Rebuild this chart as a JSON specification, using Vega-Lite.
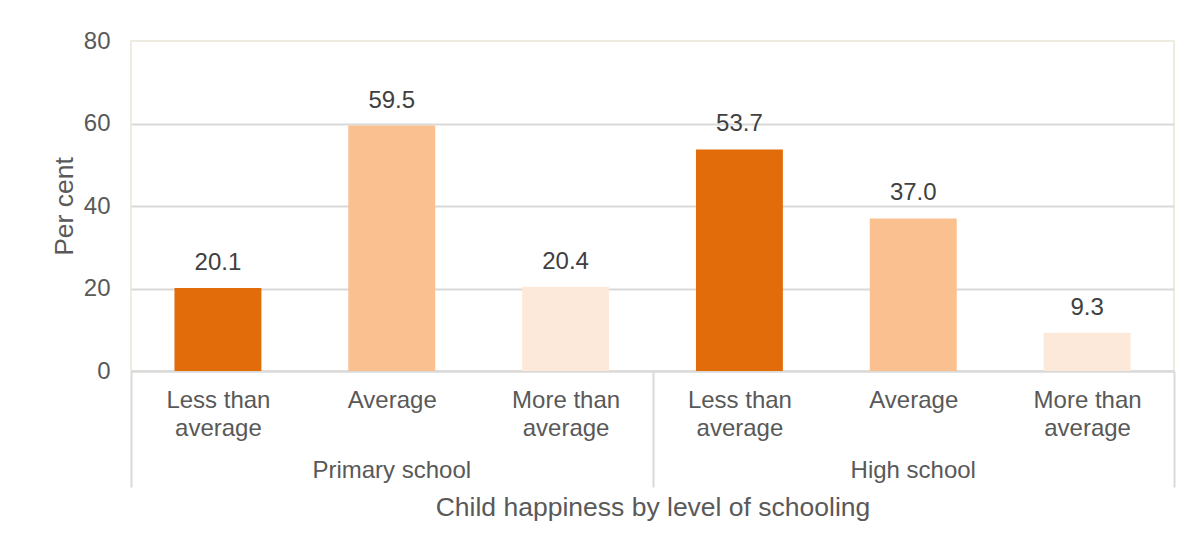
{
  "$schema": "https://vega.github.io/schema/vega-lite/v6.json",
  "width": 1043,
  "height": 330,
  "autosize": {"type": "none"},
  "padding": {"left": 131, "top": 41, "right": 18, "bottom": 176},
  "background": "white",
  "config": {
    "font": "Liberation Sans",
    "view": {"stroke": "#EEECE1", "strokeWidth": 2}
  },
  "data": {
    "values": [
      {"id": "P1", "group": "Primary school", "level": "Less than average", "value": 20.1},
      {"id": "P2", "group": "Primary school", "level": "Average", "value": 59.5},
      {"id": "P3", "group": "Primary school", "level": "More than average", "value": 20.4},
      {"id": "H1", "group": "High school", "level": "Less than average", "value": 53.7},
      {"id": "H2", "group": "High school", "level": "Average", "value": 37.0},
      {"id": "H3", "group": "High school", "level": "More than average", "value": 9.3}
    ]
  },
  "encoding": {
    "y": {
      "field": "value",
      "type": "quantitative",
      "scale": {"domain": [0, 80], "nice": false},
      "axis": {
        "title": "Per cent",
        "values": [0, 20, 40, 60, 80],
        "domain": false,
        "ticks": false,
        "tickSize": 0,
        "labelPadding": 21,
        "labelFontSize": 24,
        "labelColor": "#595959",
        "titleFontSize": 26.5,
        "titleFontWeight": "normal",
        "titleColor": "#595959",
        "titlePadding": 5,
        "grid": true,
        "gridColor": "#D9D9D9",
        "gridWidth": 2,
        "gridOpacity": {"condition": {"test": "datum.value === 80", "value": 0}, "value": 1}
      }
    }
  },
  "layer": [
    {
      "mark": {"type": "bar", "width": {"band": 0.5}},
      "encoding": {
        "x": {
          "field": "id",
          "type": "nominal",
          "sort": ["P1", "P2", "P3", "H1", "H2", "H3"],
          "scale": {"paddingInner": 0, "paddingOuter": 0},
          "axis": {
            "orient": "bottom",
            "title": null,
            "labelAngle": 0,
            "labelOverlap": false,
            "labelExpr": "!datum.value ? '' : (datum.value === 'P1' || datum.value === 'H1') ? ['Less than', 'average'] : (datum.value === 'P2' || datum.value === 'H2') ? 'Average' : ['More than', 'average']",
            "labelFontSize": 24,
            "labelColor": "#595959",
            "labelLineHeight": 28,
            "labelBaseline": "top",
            "labelPadding": -99,
            "domainColor": "#D9D9D9",
            "domainWidth": 2,
            "ticks": true,
            "tickBand": "extent",
            "tickSize": 116,
            "tickWidth": 2,
            "tickColor": "#D9D9D9",
            "tickOpacity": {"condition": {"test": "datum.value === 'P3' || datum.value === 'H3' || !datum.value", "value": 1}, "value": 0},
            "grid": false
          }
        },
        "color": {
          "field": "level",
          "type": "nominal",
          "scale": {
            "domain": ["Less than average", "Average", "More than average"],
            "range": ["#E36C0A", "#FAC090", "#FDE9D9"]
          },
          "legend": null
        }
      }
    },
    {
      "mark": {"type": "text", "dy": -18, "baseline": "alphabetic", "fontSize": 24, "color": "#404040"},
      "encoding": {
        "x": {
          "field": "id",
          "type": "nominal",
          "sort": ["P1", "P2", "P3", "H1", "H2", "H3"],
          "axis": {
            "orient": "bottom",
            "title": "Child happiness by level of schooling",
            "titleFontSize": 26.5,
            "titleFontWeight": "normal",
            "titleColor": "#595959",
            "titlePadding": 12,
            "labelAngle": 0,
            "labelOverlap": false,
            "labelExpr": "datum.value === 'P2' ? 'Primary school' : datum.value === 'H2' ? 'High school' : ''",
            "labelFontSize": 24,
            "labelColor": "#595959",
            "labelBaseline": "top",
            "labelPadding": 87,
            "domain": false,
            "ticks": false,
            "grid": false
          }
        },
        "text": {"field": "value", "type": "quantitative", "format": ".1f"}
      }
    }
  ],
  "resolve": {"axis": {"x": "independent"}}
}
